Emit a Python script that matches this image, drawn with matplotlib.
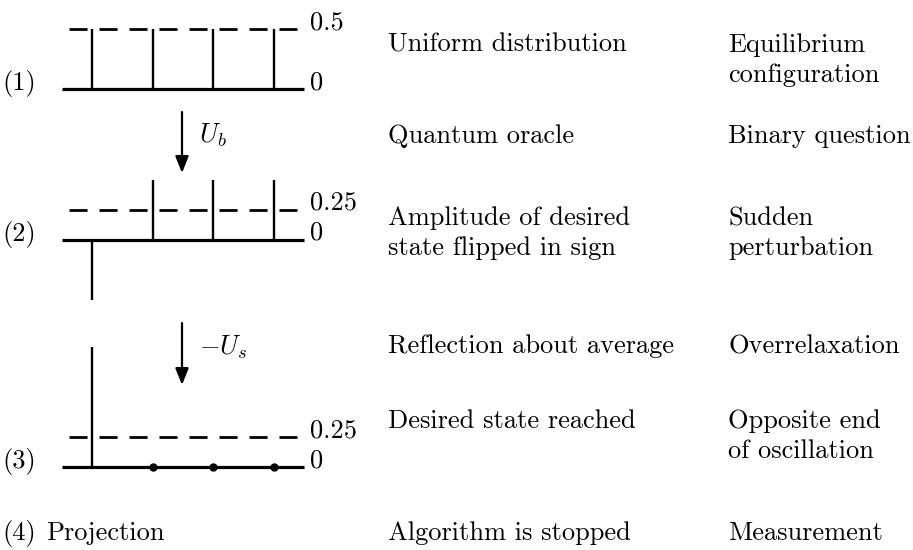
import matplotlib.pyplot as plt

plt.rcParams['font.family'] = ['cmr10', 'DejaVu Serif']
plt.rcParams['mathtext.fontset'] = 'cm'
plt.rcParams['lines.scale_dashes'] = False

# amplitudes of the four basis states at each stage
states = [0, 1, 2, 3]
amp_stage1 = [0.5, 0.5, 0.5, 0.5]
amp_stage2 = [-0.5, 0.5, 0.5, 0.5]
amp_stage3 = [1.0, 0.0, 0.0, 0.0]
stage_amps = [amp_stage1, amp_stage2, amp_stage3]
mean_levels = [0.5, 0.25, 0.25]
mean_labels = ['0.5', '0.25', '0.25']
stage_labels = ['(1)', '(2)', '(3)']
operators = [r'$U_b$', r'$-U_s$']

col_mid = ['Uniform distribution', 'Quantum oracle',
           'Amplitude of desired\nstate flipped in sign',
           'Reflection about average', 'Desired state reached',
           'Algorithm is stopped']
col_right = ['Equilibrium\nconfiguration', 'Binary question',
             'Sudden\nperturbation', 'Overrelaxation',
             'Opposite end\nof oscillation', 'Measurement']
text_rows = [52, 143, 225, 353, 428, 540]

# layout (pixels)
W, H = 913, 550
base_y = [89, 240, 467]
scale = 120.0
x0, dx = 92, 60.67
fs = 19
line_h = 30

fig = plt.figure(figsize=(W / 100, H / 100), dpi=100)
ax = fig.add_axes([0, 0, 1, 1])
ax.set_xlim(0, W)
ax.set_ylim(H, 0)
ax.axis('off')

def px(i):
    return x0 + dx * i

for k, amps in enumerate(stage_amps):
    y0 = base_y[k]
    ax.plot([62, 304], [y0, y0], color='k', lw=2.3, solid_capstyle='butt')
    ym = y0 - mean_levels[k] * scale
    ax.plot([69, 297], [ym, ym], color='k', lw=2.0,
            linestyle=(0, (13, 8.6)), dash_capstyle='butt')
    for s, a in zip(states, amps):
        if a == 0:
            ax.plot(px(s), y0, 'o', color='k', ms=5)
        else:
            ax.plot([px(s), px(s)], [y0, y0 - a * scale], color='k',
                    lw=1.7, solid_capstyle='butt')
    ax.text(310, ym, mean_labels[k], fontsize=fs, va='baseline', ha='left')
    ax.text(310, y0, '0', fontsize=fs, va='baseline', ha='left')
    ax.text(2, y0 + 1, stage_labels[k], fontsize=fs, va='baseline', ha='left')

ax.text(2, 540, '(4)', fontsize=fs, va='baseline', ha='left')
ax.text(46, 540, 'Projection', fontsize=fs, va='baseline', ha='left')

# operator arrows
arrows = [(112, 173, 143), (323, 385, 355)]
for (ya, yb, yt), op in zip(arrows, operators):
    ax.annotate('', xy=(182, yb), xytext=(182, ya),
                arrowprops=dict(arrowstyle='-|>,head_length=1.0,head_width=0.4',
                                lw=1.6, color='k', shrinkA=0, shrinkB=0,
                                mutation_scale=10))
    ax.text(199, yt, op, fontsize=fs, va='baseline', ha='left')

for y, t1, t2 in zip(text_rows, col_mid, col_right):
    for j, line in enumerate(t1.split('\n')):
        ax.text(388, y + j * line_h, line, fontsize=fs, va='baseline')
    for j, line in enumerate(t2.split('\n')):
        ax.text(728, y + j * line_h, line, fontsize=fs, va='baseline')

fig.savefig('out.png', dpi=100)
